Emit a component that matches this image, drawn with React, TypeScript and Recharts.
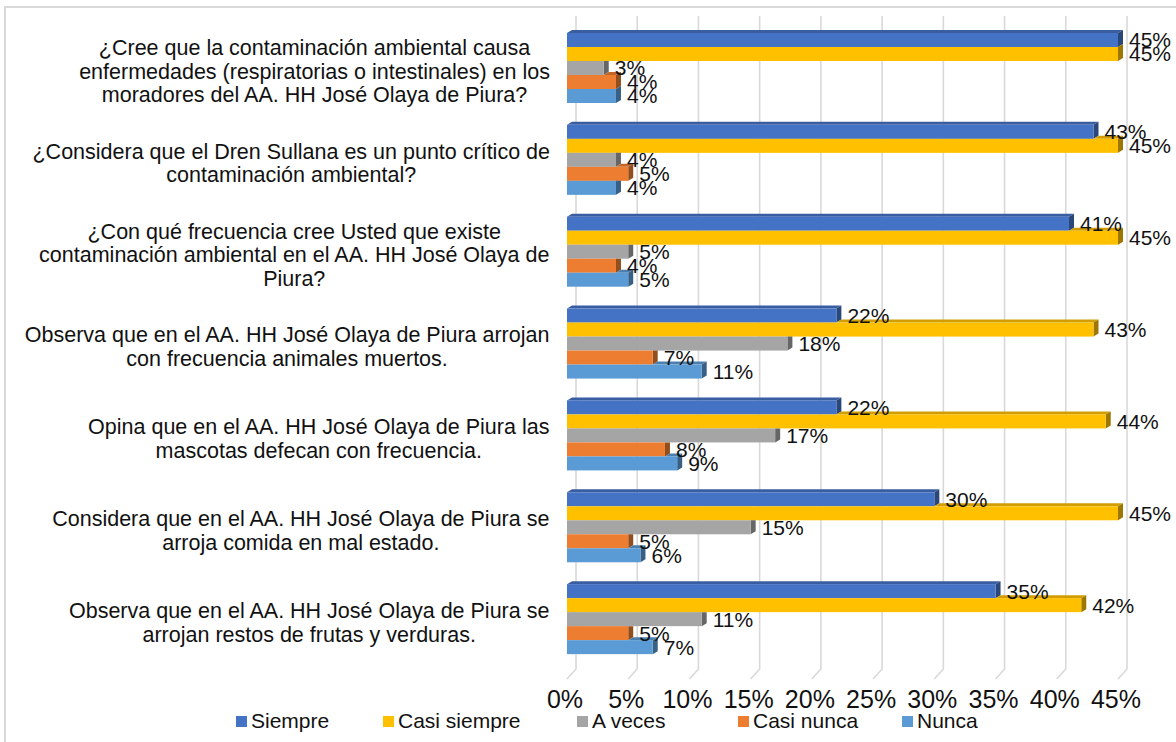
import React from 'react';
import { BarChart, Bar, XAxis, YAxis, CartesianGrid, LabelList, Legend } from 'recharts';

// ---------- DATA ----------
const categories: string[] = [
  '¿Cree que la contaminación ambiental causa\nenfermedades (respiratorias o intestinales) en los\nmoradores del AA. HH José Olaya de Piura?',
  '¿Considera que el Dren Sullana es un punto crítico de\ncontaminación ambiental?',
  '¿Con qué frecuencia cree Usted que existe\ncontaminación ambiental en el AA. HH José Olaya de\nPiura?',
  'Observa que en el AA. HH José Olaya de Piura arrojan\ncon frecuencia animales muertos.',
  'Opina que en el AA. HH José Olaya de Piura las\nmascotas defecan con frecuencia.',
  'Considera que en el AA. HH José Olaya de Piura se\narroja comida en mal estado.',
  'Observa que en el AA. HH José Olaya de Piura se\narrojan restos de frutas y verduras.',
];
const siempre = [45, 43, 41, 22, 22, 30, 35];
const casiSiempre = [45, 45, 45, 43, 44, 45, 42];
const aVeces = [3, 4, 5, 18, 17, 15, 11];
const casiNunca = [4, 5, 4, 7, 8, 5, 5];
const nunca = [4, 4, 5, 11, 9, 6, 7];
const xTicks = [0, 5, 10, 15, 20, 25, 30, 35, 40, 45];
const seriesNames = ['Siempre', 'Casi siempre', 'A veces', 'Casi nunca', 'Nunca'];
const seriesKeys = ['siempre', 'casiSiempre', 'aVeces', 'casiNunca', 'nunca'];

const data = categories.map((name, i) => ({
  name,
  siempre: siempre[i],
  casiSiempre: casiSiempre[i],
  aVeces: aVeces[i],
  casiNunca: casiNunca[i],
  nunca: nunca[i],
}));

// ---------- STYLE ----------
const colors = ['#4472C4', '#FFC000', '#A5A5A5', '#ED7D31', '#5B9BD5'];
const FONT = "'Liberation Sans', Arial, sans-serif";
const W = 1176;
const H = 742;
const Y_AXIS_W = 567;
const X_AXIS_H = 30;
const margin = { top: 23, right: 58, bottom: 46, left: 0 };
const LABEL_RIGHT = 550;
const LABEL_FS = 21.5;
const LINE_H = 23.5;
const legendLeft = [236, 383, 577, 738, 902];
const DEPTH_X = 5;
const DEPTH_Y = 3;

function shade(hex: string, f: number) {
  const n = parseInt(hex.slice(1), 16);
  const r = Math.round(((n >> 16) & 255) * f);
  const g = Math.round(((n >> 8) & 255) * f);
  const b = Math.round((n & 255) * f);
  return `rgb(${r},${g},${b})`;
}

let ctx: CanvasRenderingContext2D | null = null;
function measure(t: string, font: string) {
  if (!ctx) ctx = document.createElement('canvas').getContext('2d');
  if (!ctx) return t.length * 10;
  ctx.font = font;
  return ctx.measureText(t).width;
}

const YTick = (props: any) => {
  const { y, payload } = props;
  const lines = String(payload.value).split('\n');
  const w = Math.max(...lines.map((l) => measure(l, `${LABEL_FS}px ${FONT}`)));
  const cx = LABEL_RIGHT - w / 2;
  return (
    <text textAnchor="middle" fontSize={LABEL_FS} fontFamily={FONT} fill="#111">
      {lines.map((l, j) => (
        <tspan key={j} x={cx} y={y + 2 + (j - (lines.length - 1) / 2) * LINE_H} dy="0.36em">
          {l}
        </tspan>
      ))}
    </text>
  );
};

const XTick = (props: any) => {
  const { x, y, payload } = props;
  return (
    <text x={x - 2} y={y} dy={34} textAnchor="middle" fontSize={25} fontFamily={FONT} fill="#111">
      {`${payload.value}%`}
    </text>
  );
};

const gridLine = (props: any) => {
  const { x1, y1, y2 } = props;
  return (
    <path
      key={props.key}
      d={`M${x1 + 9},${y1 - 7} L${x1 + 9},${y2 + 3} L${x1},${y2 + 13}`}
      stroke="#d9d9d9"
      strokeWidth={1.6}
      fill="none"
    />
  );
};

const makeShape = (idx: number) => (props: any) => {
  const { x, y, width, height, payload } = props;
  if (!width || width <= 0) return <g />;
  const color = colors[idx];
  const v = payload[seriesKeys[idx]];
  const ppu = width / v;
  const prevEnd = idx > 0 ? x + payload[seriesKeys[idx - 1]] * ppu : x;
  const right = x + width;
  const D = DEPTH_X;
  const DY = DEPTH_Y;
  const ts = Math.max(x, prevEnd);
  const sideTop = prevEnd > right
    ? `${right},${y} ${right + D},${y}`
    : `${right},${y} ${right + D},${y - DY}`;
  return (
    <g>
      {right > ts && (
        <polygon
          points={`${ts},${y} ${ts + D},${y - DY} ${right + D},${y - DY} ${right},${y}`}
          fill={shade(color, 0.82)}
        />
      )}
      <polygon
        points={`${sideTop} ${right + D},${y + height - DY} ${right},${y + height}`}
        fill={shade(color, 0.62)}
      />
      <rect x={x} y={y} width={width} height={height} fill={color} />
    </g>
  );
};

const LegendContent = () => (
  <div style={{ position: 'relative', width: W, height: 26 }}>
    {seriesNames.map((n, i) => (
      <div
        key={n}
        style={{
          position: 'absolute',
          left: legendLeft[i],
          top: 0,
          height: 26,
          display: 'flex',
          alignItems: 'center',
          fontSize: 21,
          fontFamily: FONT,
          color: '#111',
          whiteSpace: 'nowrap',
        }}
      >
        <span style={{ display: 'inline-block', width: 11, height: 11, background: colors[i], marginRight: 4 }} />
        {n}
      </div>
    ))}
  </div>
);

const fmt = (v: any) => `${v}%`;

export default function App() {
  return (
    <div style={{ position: 'absolute', left: 0, top: 0, width: W, height: H, overflow: 'hidden', background: '#fff' }}>
      <div
        style={{
          position: 'absolute',
          left: 4,
          top: 6,
          width: W + 40,
          height: H + 40,
          border: '2px solid #d9d9d9',
          boxSizing: 'border-box',
        }}
      />
      <div style={{ position: 'absolute', left: 0, top: 0 }}>
        <BarChart width={W} height={H} data={data} layout="vertical" margin={margin} barCategoryGap={10} barGap={0}>
          <CartesianGrid horizontal={false} vertical={gridLine} />
          <XAxis
            type="number"
            domain={[0, 45]}
            ticks={xTicks}
            height={X_AXIS_H}
            axisLine={false}
            tickLine={false}
            tick={<XTick />}
            interval={0}
          />
          <YAxis
            type="category"
            dataKey="name"
            width={Y_AXIS_W}
            axisLine={false}
            tickLine={false}
            tick={<YTick />}
            interval={0}
          />
          {seriesKeys.map((k, i) => (
            <Bar key={k} dataKey={k} name={seriesNames[i]} fill={colors[i]} shape={makeShape(i)} isAnimationActive={false} />
          ))}
          <Legend
            layout="horizontal"
            verticalAlign="middle"
            align="center"
            content={<LegendContent />}
            wrapperStyle={{ left: 0, top: 708, width: W, height: 26 }}
          />
        </BarChart>
      </div>
      <div style={{ position: 'absolute', left: 0, top: 0, pointerEvents: 'none' }}>
        <BarChart width={W} height={H} data={data} layout="vertical" margin={margin} barCategoryGap={10} barGap={0}>
          <XAxis type="number" domain={[0, 45]} ticks={xTicks} height={X_AXIS_H} axisLine={false} tickLine={false} tick={false} />
          <YAxis type="category" dataKey="name" width={Y_AXIS_W} axisLine={false} tickLine={false} tick={false} />
          {seriesKeys.map((k, i) => (
            <Bar key={k} dataKey={k} fill="transparent" isAnimationActive={false}>
              <LabelList
                dataKey={k}
                position="right"
                offset={11}
                formatter={fmt}
                fontSize={21}
                fontFamily={FONT}
                fill="#111"
              />
            </Bar>
          ))}
        </BarChart>
      </div>
    </div>
  );
}
